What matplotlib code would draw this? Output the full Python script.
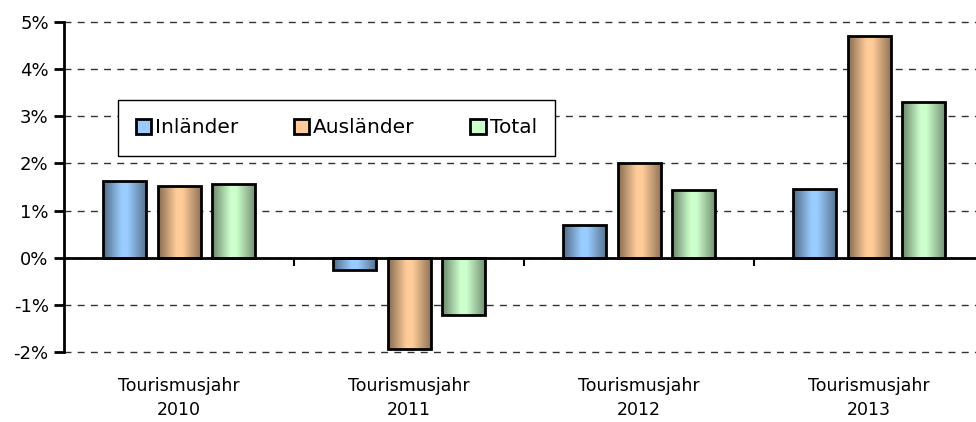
import numpy as np
import matplotlib
matplotlib.use('Agg')
import matplotlib.pyplot as plt
import matplotlib.transforms as mtransforms
from matplotlib.colors import LinearSegmentedColormap, to_rgb
from matplotlib.patches import Patch

categories = ['Tourismusjahr\n2010', 'Tourismusjahr\n2011', 'Tourismusjahr\n2012', 'Tourismusjahr\n2013']
series_names = ['Inländer', 'Ausländer', 'Total']
inlaender = [1.62, -0.25, 0.69, 1.46]
auslaender = [1.53, -1.93, 2.01, 4.70]
total = [1.57, -1.21, 1.44, 3.30]
yticks = [-2, -1, 0, 1, 2, 3, 4, 5]
ytick_labels = ['-2%', '-1%', '0%', '1%', '2%', '3%', '4%', '5%']
colors = ['#99CCFF', '#FFCC99', '#CCFFCC']

plt.rcParams['font.family'] = ['DejaVu Sans']

fig = plt.figure(figsize=(9.76, 4.22), dpi=100)
ax = fig.add_axes([64 / 976, 70 / 422, 912 / 976, 330 / 422])

x = np.arange(len(categories))
width = 0.187
step = 0.235
grad = np.linspace(0, 1, 256).reshape(1, -1)

for i, (name, vals, c) in enumerate(zip(series_names, [inlaender, auslaender, total], colors)):
    light = np.array(to_rgb(c))
    dark = light * 0.52
    cmap = LinearSegmentedColormap.from_list(
        'g%d' % i, [(0, dark), (0.42, light), (0.56, light), (1, np.clip(dark * 1.05, 0, 1))])
    bars = ax.bar(x + (i - 1) * step, vals, width, facecolor='none',
                  edgecolor='black', linewidth=2, zorder=3)
    for b in bars:
        x0, y0 = b.get_x(), b.get_y()
        w, h = b.get_width(), b.get_height()
        im = ax.imshow(grad, cmap=cmap, extent=[x0, x0 + w, y0, y0 + h],
                       aspect='auto', zorder=2, interpolation='bilinear')
        im.set_clip_path(b)

ax.set_xlim(-0.5, 3.465)
ax.set_ylim(-2, 5)
ax.set_aspect('auto')

# axes styling
for s in ['top', 'right']:
    ax.spines[s].set_visible(False)
ax.spines['left'].set_linewidth(2)
ax.spines['bottom'].set_position(('data', 0))
ax.spines['bottom'].set_linewidth(2)
ax.spines['bottom'].set_zorder(4)

ax.set_yticks(yticks)
ax.set_yticklabels(ytick_labels, fontsize=13)
ax.tick_params(axis='y', direction='out', length=7, width=2, pad=4)

ax.set_xticks([])
ax.set_xticks([0.5, 1.5, 2.5], minor=True)
ax.tick_params(axis='x', which='minor', direction='out', length=6, width=1.5)

ax.yaxis.grid(True, linestyle=(0, (5, 4.5)), color='#333333', linewidth=1)
ax.set_axisbelow(True)
for gl in ax.get_ygridlines():
    gl.set_clip_on(False)

trans = mtransforms.blended_transform_factory(ax.transData, ax.transAxes)
for xi, lab in zip(x, categories):
    ax.text(xi, -0.14, lab, transform=trans, ha='center', va='center',
            fontsize=12.5, linespacing=1.45)

handles = [Patch(facecolor=c, edgecolor='black', linewidth=2) for c in colors]
leg = ax.legend(handles, series_names, loc='center', ncol=3,
                bbox_to_anchor=(0.0592, 0.576, 0.479, 0.206), mode='expand',
                frameon=True, fancybox=False, framealpha=1, edgecolor='black',
                fontsize=14.5, handlelength=0.75, handleheight=0.75,
                handletextpad=0.2, columnspacing=1.2, borderaxespad=0,
                borderpad=0.9)
leg.get_frame().set_linewidth(1)
leg.set_zorder(5)

fig.savefig('out.png', dpi=100)
